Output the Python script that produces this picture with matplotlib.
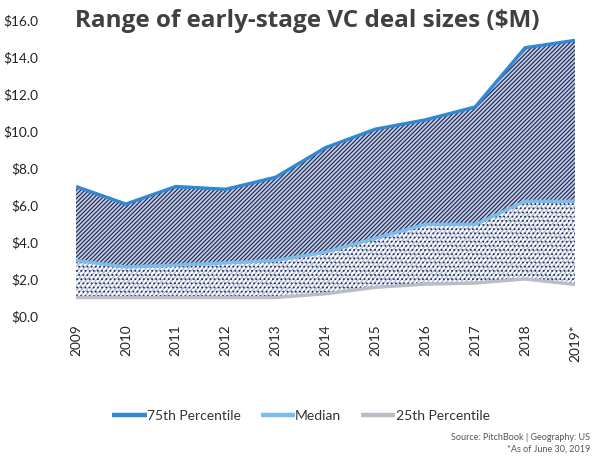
import matplotlib.pyplot as plt

plt.rcParams['font.family'] = ['Lato', 'DejaVu Sans']
plt.rcParams['hatch.linewidth'] = 0.8

# data ($M)
years = [2009, 2010, 2011, 2012, 2013, 2014, 2015, 2016, 2017, 2018, 2019]
year_labels = ['2009', '2010', '2011', '2012', '2013', '2014', '2015',
               '2016', '2017', '2018', '2019*']
p75 = [7.0, 6.05, 7.0, 6.85, 7.5, 9.1, 10.1, 10.6, 11.3, 14.5, 14.9]
median = [3.0, 2.65, 2.75, 2.87, 3.0, 3.45, 4.2, 4.95, 4.95, 6.2, 6.2]
p25 = [1.0, 1.0, 1.0, 1.0, 1.0, 1.2, 1.55, 1.72, 1.78, 2.0, 1.7]

fig = plt.figure(figsize=(6, 4.67), dpi=100)
ax = fig.add_axes([76 / 600, 1 - 316 / 467, (575 - 76) / 600, 296 / 467])

# shaded bands
ax.fill_between(years, median, p75, facecolor='#c8cbd4', edgecolor='#0f2466',
                hatch='////////', linewidth=0)
ax.fill_between(years, p25, median, facecolor='white', edgecolor='#a3adc3',
                hatch='///////', linewidth=0)
ax.fill_between(years, p25, median, facecolor='none', edgecolor='#1b2d6e',
                hatch='....', linewidth=0)

ax.plot(years, p25, color='#b9bdc6', lw=2.4, label='25th Percentile',
        solid_capstyle='butt')
ax.plot(years, median, color='#7cbcea', lw=2.4, label='Median',
        solid_capstyle='butt')
ax.plot(years, p75, color='#2f88d6', lw=2.4, label='75th Percentile',
        solid_capstyle='butt')

ax.set_xlim(2009, 2019)
ax.set_ylim(0, 16)
ax.set_yticks(range(0, 17, 2))
ax.set_yticklabels(['$%.1f' % v for v in range(0, 17, 2)])
ax.set_xticks(years)
ax.set_xticklabels(year_labels, rotation=90)
ax.tick_params(length=0, labelsize=9.8, colors='#222222')
ax.tick_params(axis='y', pad=27)
ax.tick_params(axis='x', pad=6)
for s in ax.spines.values():
    s.set_visible(False)

fig.text(75 / 600, 1 - 21 / 467, 'Range of early-stage VC deal sizes ($M)',
         fontsize=17.5, fontweight='bold', color='#404040', va='center',
         family=['Open Sans', 'DejaVu Sans'])

handles, labels = ax.get_legend_handles_labels()
order = [2, 1, 0]
leg = fig.legend([handles[i] for i in order], [labels[i] for i in order],
                 loc='center', bbox_to_anchor=(301 / 600, 1 - 416 / 467),
                 ncol=3, frameon=False, fontsize=10, handlelength=2.45,
                 handletextpad=0.05, columnspacing=1.4)
for line in leg.get_lines():
    line.set_linewidth(3.2)
for t in leg.get_texts():
    t.set_color('#333333')

fig.text(590 / 600, 1 - 437 / 467, 'Source: PitchBook | Geography: US',
         fontsize=6.5, color='#555555', ha='right', va='center')
fig.text(590 / 600, 1 - 449 / 467, '*As of June 30, 2019',
         fontsize=6.5, color='#555555', ha='right', va='center')

fig.savefig('out.png', dpi=100)
